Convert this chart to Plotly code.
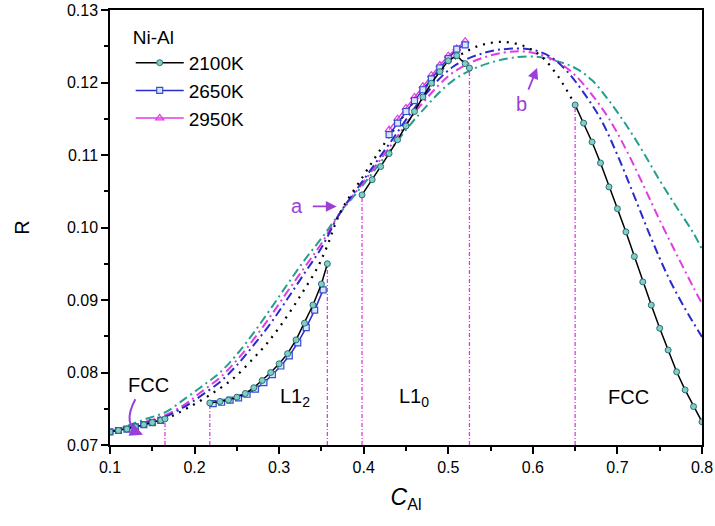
import plotly.graph_objects as go

# ---------------- data ----------------
# 2100K (ordered-phase calculation, segments separated by None)
x_2100 = [0.10, 0.11, 0.12, 0.13, 0.14, 0.15, 0.16, 0.165, None,
          0.218, 0.23, 0.24, 0.25, 0.26, 0.27, 0.28, 0.29, 0.30, 0.31, 0.32, 0.33, 0.34, 0.35, 0.357, None,
          0.398, 0.41, 0.42, 0.43, 0.44, 0.45, 0.46, 0.47, 0.48, 0.49, 0.50, 0.51, 0.52, 0.525, None,
          0.65, 0.66, 0.67, 0.68, 0.69, 0.70, 0.71, 0.72, 0.73, 0.74, 0.75, 0.76, 0.77, 0.78, 0.79, 0.80]
r_2100 = [0.0718, 0.0720, 0.0722, 0.0725, 0.0728, 0.0731, 0.0734, 0.0736, None,
          0.0758, 0.0760, 0.0762, 0.0766, 0.0771, 0.0779, 0.0789, 0.0800, 0.0812, 0.0826, 0.0845, 0.0868, 0.0893, 0.0922, 0.0950, None,
          0.1045, 0.1066, 0.1084, 0.1102, 0.1121, 0.1140, 0.1160, 0.1180, 0.1199, 0.1215, 0.1230, 0.1237, 0.1226, 0.1220, None,
          0.1169, 0.1144, 0.1118, 0.1089, 0.1056, 0.1026, 0.0994, 0.0960, 0.0925, 0.0893, 0.0861, 0.0831, 0.0801, 0.0776, 0.0753, 0.0732]

x_2650 = [0.10, 0.11, 0.12, 0.13, 0.14, 0.15, 0.16, None,
          0.222, 0.232, 0.242, 0.252, 0.262, 0.272, 0.282, 0.292, 0.302, 0.312, 0.322, 0.332, 0.342, 0.352, None,
          0.43, 0.44, 0.45, 0.46, 0.47, 0.48, 0.49, 0.50, 0.51, 0.52]
r_2650 = [0.0718, 0.0720, 0.0722, 0.0725, 0.0728, 0.0731, 0.0734, None,
          0.0757, 0.0759, 0.0762, 0.0765, 0.0770, 0.0777, 0.0786, 0.0797, 0.0809, 0.0823, 0.0841, 0.0862, 0.0886, 0.0914, None,
          0.1128, 0.1144, 0.1160, 0.1175, 0.1190, 0.1205, 0.1220, 0.1233, 0.1246, 0.1252]

x_2950 = [0.43, 0.44, 0.45, 0.46, 0.47, 0.48, 0.49, 0.50, 0.51, 0.52]
r_2950 = [0.1135, 0.1150, 0.1165, 0.1180, 0.1195, 0.1210, 0.1224, 0.1237, 0.1247, 0.1257]

# disordered (FCC) curves
x_dis_black = [0.10, 0.13, 0.165, 0.19, 0.218, 0.246, 0.27, 0.2855, 0.30, 0.317, 0.33, 0.3446, 0.356, 0.372,
               0.40, 0.42, 0.44, 0.46, 0.48, 0.50, 0.52, 0.54, 0.565, 0.59, 0.61, 0.63, 0.65]
r_dis_black = [0.0718, 0.0726, 0.0736, 0.0750, 0.0769, 0.0792, 0.0820, 0.0840, 0.0862, 0.0891, 0.0915, 0.0943, 0.0972, 0.1020,
               0.1072, 0.1108, 0.1142, 0.1175, 0.1203, 0.1226, 0.1242, 0.1252, 0.1256, 0.1250, 0.1236, 0.1208, 0.1169]

x_dis_blue = [0.10, 0.13, 0.165, 0.19, 0.2065, 0.23, 0.25, 0.27, 0.29, 0.31, 0.33, 0.35, 0.372, 0.40, 0.43, 0.467,
              0.506, 0.546, 0.581, 0.60, 0.62, 0.64, 0.66, 0.68, 0.70, 0.72, 0.74, 0.76, 0.78, 0.80]
r_dis_blue = [0.0718, 0.0727, 0.0739, 0.0754, 0.0767, 0.0787, 0.0810, 0.0838, 0.0868, 0.0902, 0.0937, 0.0972, 0.1020, 0.1066, 0.1115, 0.1175,
              0.1222, 0.1242, 0.1247, 0.1245, 0.1236, 0.1216, 0.1186, 0.1150, 0.1100, 0.1043, 0.0985, 0.0932, 0.0888, 0.0849]

x_dis_mag = [0.10, 0.13, 0.165, 0.19, 0.2065, 0.23, 0.25, 0.27, 0.29, 0.31, 0.33, 0.35, 0.372, 0.40, 0.43, 0.467,
             0.506, 0.546, 0.585, 0.61, 0.63, 0.65, 0.67, 0.69, 0.71, 0.73, 0.75, 0.77, 0.79, 0.80]
r_dis_mag = [0.0718, 0.0728, 0.0741, 0.0757, 0.0772, 0.0793, 0.0817, 0.0846, 0.0878, 0.0912, 0.0945, 0.0978, 0.1020, 0.1063, 0.1110, 0.1168,
             0.1214, 0.1236, 0.1243, 0.1238, 0.1228, 0.1210, 0.1183, 0.1150, 0.1108, 0.1060, 0.1010, 0.0963, 0.0917, 0.0895]

x_dis_teal = [0.10, 0.12, 0.14, 0.165, 0.19, 0.21, 0.23, 0.25, 0.27, 0.29, 0.31, 0.33, 0.35, 0.372, 0.40, 0.43, 0.467,
              0.506, 0.546, 0.593, 0.62, 0.65, 0.67, 0.69, 0.71, 0.73, 0.75, 0.77, 0.79, 0.80]
r_dis_teal = [0.0718, 0.0726, 0.0735, 0.0745, 0.0765, 0.0782, 0.0800, 0.0825, 0.0855, 0.0888, 0.0922, 0.0955, 0.0985, 0.1020, 0.1060, 0.1105, 0.1158,
              0.1203, 0.1226, 0.1236, 0.1232, 0.1220, 0.1203, 0.1175, 0.1142, 0.1105, 0.1065, 0.1028, 0.0992, 0.0970]

# phase-boundary markers (vertical lines)
x_bound = [0.165, 0.218, 0.357, 0.398, 0.525, 0.65]
r_bound = [0.0736, 0.0758, 0.0952, 0.1045, 0.1220, 0.1169]

x_ticks = [0.1, 0.2, 0.3, 0.4, 0.5, 0.6, 0.7, 0.8]
y_ticks = [0.07, 0.08, 0.09, 0.10, 0.11, 0.12, 0.13]

# ---------------- figure ----------------
FONT = "Liberation Sans, Arial, Helvetica, sans-serif"
TEAL = "#23a08c"
MAG = "#e03ce0"
BLUE = "#2a2ad0"
PURPLE = "#9a3fd8"

fig = go.Figure()

# vertical boundary lines
for xb, rb in zip(x_bound, r_bound):
    fig.add_trace(go.Scatter(x=[xb, xb], y=[0.07, rb], mode="lines",
                             line=dict(color=MAG, width=1.3, dash="4px,2px,1px,2px"),
                             showlegend=False, hoverinfo="skip"))

# disordered curves
fig.add_trace(go.Scatter(x=x_dis_teal, y=r_dis_teal, mode="lines", line_shape="spline",
                         line=dict(color=TEAL, width=2, dash="9px,4px,2px,4px"), showlegend=False))
fig.add_trace(go.Scatter(x=x_dis_mag, y=r_dis_mag, mode="lines", line_shape="spline",
                         line=dict(color=MAG, width=2, dash="9px,4px,2px,4px"), showlegend=False))
fig.add_trace(go.Scatter(x=x_dis_blue, y=r_dis_blue, mode="lines", line_shape="spline",
                         line=dict(color=BLUE, width=2, dash="9px,4px,2px,4px"), showlegend=False))
fig.add_trace(go.Scatter(x=x_dis_black, y=r_dis_black, mode="lines", line_shape="spline",
                         line=dict(color="black", width=2.2, dash="2px,6px"), showlegend=False))

# ordered-phase series
fig.add_trace(go.Scatter(x=x_2950, y=r_2950, mode="lines+markers", name="2950K",
                         line=dict(color=MAG, width=1.5),
                         marker=dict(symbol="triangle-up-open", size=7, color=MAG, line=dict(width=1.2))))
fig.add_trace(go.Scatter(x=x_2650, y=r_2650, mode="lines+markers", name="2650K",
                         line=dict(color=BLUE, width=1.5),
                         marker=dict(symbol="square", size=6, color="#dde4ff", line=dict(color="#3050d0", width=1.2))))
fig.add_trace(go.Scatter(x=x_2100, y=r_2100, mode="lines+markers", name="2100K",
                         line=dict(color="black", width=1.5),
                         marker=dict(symbol="circle", size=6, color="#7fd0c4", line=dict(color="#2a6f78", width=1))))

# labels and arrows
ann = []
ann.append(dict(x=0.145, y=0.0783, text="FCC", showarrow=False, font=dict(size=20, color="black", family=FONT)))
ann.append(dict(x=0.319, y=0.0766, text="L1<sub>2</sub>", showarrow=False, font=dict(size=20, color="black", family=FONT)))
ann.append(dict(x=0.459, y=0.0766, text="L1<sub>0</sub>", showarrow=False, font=dict(size=20, color="black", family=FONT)))
ann.append(dict(x=0.713, y=0.0766, text="FCC", showarrow=False, font=dict(size=20, color="black", family=FONT)))
ann.append(dict(x=0.321, y=0.1030, text="a", showarrow=False, font=dict(size=20, color=PURPLE, family=FONT)))
ann.append(dict(x=0.587, y=0.1170, text="b", showarrow=False, font=dict(size=20, color=PURPLE, family=FONT)))
ann.append(dict(x=0.368, y=0.1029, ax=0.338, ay=0.1029, axref="x", ayref="y", xref="x", yref="y",
                text="", showarrow=True, arrowhead=2, arrowsize=1.2, arrowwidth=1.8, arrowcolor=PURPLE))
ann.append(dict(x=0.605, y=0.1220, ax=0.594, ay=0.1188, axref="x", ayref="y", xref="x", yref="y",
                text="", showarrow=True, arrowhead=2, arrowsize=1.2, arrowwidth=1.8, arrowcolor=PURPLE))
ann.append(dict(x=0.139, y=0.0714, ax=0.131, ay=0.0718, axref="x", ayref="y", xref="x", yref="y",
                text="", showarrow=True, arrowhead=2, arrowsize=1.3, arrowwidth=2, arrowcolor=PURPLE))

shapes = [dict(type="path", xref="x", yref="y",
               path="M 0.130 0.0763 Q 0.114 0.0728 0.135 0.0716",
               line=dict(color=PURPLE, width=2))]

fig.update_layout(
    width=715, height=526,
    margin=dict(l=110, r=13, t=10, b=81, autoexpand=False),
    paper_bgcolor="white", plot_bgcolor="white",
    font=dict(family=FONT, size=16, color="black"),
    annotations=ann, shapes=shapes,
    legend=dict(x=0.035, y=0.979, xanchor="left", yanchor="top",
                bgcolor="rgba(0,0,0,0)", font=dict(size=19, family=FONT),
                title=dict(text="Ni-Al", font=dict(size=19, family=FONT)),
                traceorder="reversed", itemwidth=48, tracegroupgap=0),
    xaxis=dict(range=[0.1, 0.8], tickvals=x_ticks, ticktext=[f"{v:.1f}" for v in x_ticks],
               automargin=False,
               showgrid=False, zeroline=False, showline=True, linecolor="black", linewidth=1.5, mirror=True,
               ticks="outside", ticklen=7, tickwidth=1.5, tickcolor="black",
               minor=dict(ticks="outside", ticklen=4, tickwidth=1.5, tickcolor="black", dtick=0.05, tick0=0.1),
               tickfont=dict(size=16, family=FONT),
               title=dict(text="<i>C</i><sub>Al</sub>", font=dict(size=23, family=FONT), standoff=14)),
    yaxis=dict(range=[0.07, 0.13], tickvals=y_ticks, ticktext=[f"{v:.2f}" for v in y_ticks],
               automargin=False,
               showgrid=False, zeroline=False, showline=True, linecolor="black", linewidth=1.5, mirror=True,
               ticks="outside", ticklen=7, tickwidth=1.5, tickcolor="black",
               minor=dict(ticks="outside", ticklen=4, tickwidth=1.5, tickcolor="black", dtick=0.005, tick0=0.07),
               tickfont=dict(size=16, family=FONT),
               title=dict(text="R", font=dict(size=20, family=FONT), standoff=32)),
)

fig.write_html("out.html")
